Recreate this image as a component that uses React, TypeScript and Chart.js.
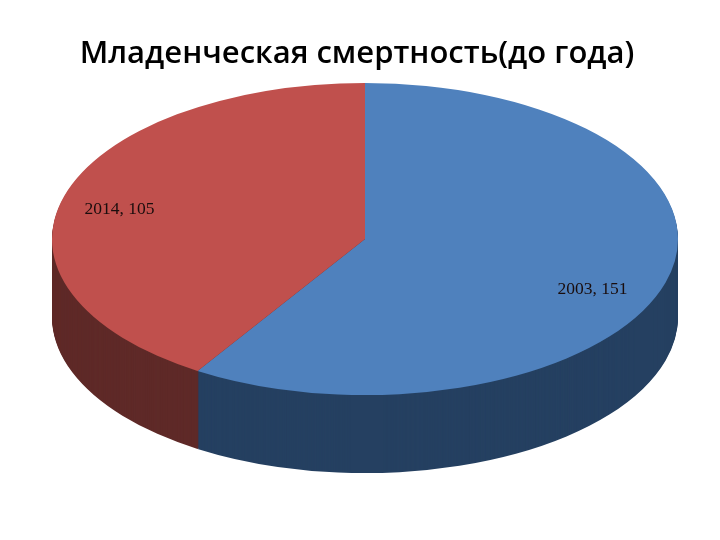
import React, { useEffect, useRef } from "react";
import { Chart, registerables } from "chart.js";

Chart.register(...registerables);

const chartTitle = "Младенческая смертность(до года)";
const categories = ["2003", "2014"];
const values = [151, 105];
const topColors = ["#4f81bd", "#c0504d"];
const sideColors = ["#254061", "#5f2a28"];

const DEPTH = 78;
const SQUASH = 156 / 313;
const SHIFT_X = 8;
const LABEL_NUDGE = [
  [-13, 16],
  [-5, 5],
];

const pie3d = {
  id: "pie3d",
  beforeDatasetsDraw(chart: any) {
    const { ctx } = chart;
    const arcs = chart.getDatasetMeta(0).data;
    if (!arcs.length) return;
    const cy = arcs[0].y;
    const squash = (offset: number) => {
      ctx.translate(SHIFT_X, cy + offset);
      ctx.scale(1, SQUASH);
      ctx.translate(0, -cy);
    };
    for (let d = DEPTH; d >= 1; d--) {
      ctx.save();
      squash(d);
      arcs.forEach((arc: any, i: number) => {
        const original = arc.options;
        const dark = Object.create(original);
        dark.backgroundColor = sideColors[i];
        dark.borderColor = sideColors[i];
        arc.options = dark;
        arc.draw(ctx);
        arc.options = original;
      });
      ctx.restore();
    }
    ctx.save();
    squash(0);
  },
  afterDatasetsDraw(chart: any) {
    const { ctx } = chart;
    ctx.restore();
    const arcs = chart.getDatasetMeta(0).data;
    if (!arcs.length) return;
    const cx = arcs[0].x + SHIFT_X;
    const cy = arcs[0].y;
    const r = arcs[0].outerRadius;
    ctx.save();
    ctx.font = '17.5px "Liberation Serif", serif';
    ctx.fillStyle = "#1a0d0d";
    ctx.textAlign = "center";
    ctx.textBaseline = "middle";
    arcs.forEach((arc: any, i: number) => {
      const mid = (arc.startAngle + arc.endAngle) / 2;
      const lr = r * 0.8;
      const x = cx + Math.cos(mid) * lr + LABEL_NUDGE[i][0];
      const y = cy + Math.sin(mid) * lr * SQUASH + LABEL_NUDGE[i][1];
      ctx.fillText(`${categories[i]}, ${values[i]}`, x, y);
    });
    ctx.restore();
  },
};

export default function App() {
  const ref = useRef<HTMLCanvasElement>(null);
  useEffect(() => {
    document.body.style.margin = "0";
    const chart = new Chart(ref.current as HTMLCanvasElement, {
      type: "pie",
      data: {
        labels: categories,
        datasets: [
          {
            data: values,
            backgroundColor: topColors,
            borderWidth: 0,
            clip: false,
          } as any,
        ],
      },
      options: {
        responsive: false,
        animation: false,
        radius: 313,
        layout: { padding: { left: 0, right: 6, bottom: 135 } },
        plugins: {
          legend: { display: false },
          tooltip: { enabled: false },
          title: {
            display: true,
            text: chartTitle,
            color: "#000000",
            font: { family: '"Open Sans", sans-serif', size: 31, weight: "600" },
            padding: { top: 36, bottom: 0 },
          },
        },
      } as any,
      plugins: [pie3d],
    });
    return () => chart.destroy();
  }, []);
  return <canvas ref={ref} width={720} height={540} style={{ display: "block" }} />;
}
